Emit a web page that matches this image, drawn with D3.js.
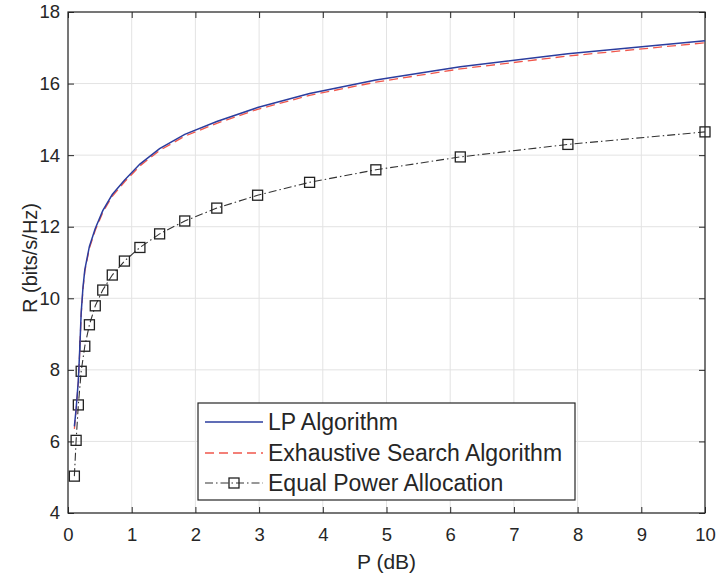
<!DOCTYPE html>
<html>
<head>
    <title>R vs P</title>
    <style>
        body { margin: 0; background: #fff; }
        text { font-family: "Liberation Sans", Arial, Helvetica, sans-serif; fill: #262626; }
        .grid line { stroke: #e3e3e3; stroke-width: 1px; }
    </style>
    <script src="https://d3js.org/d3.v7.min.js"></script>
</head>
<body>
    <div id="chart"></div>
    <script>
        // power samples (dB) and rates (bits/s/Hz)
        const lpP = [0.1, 0.127, 0.162, 0.185, 0.207, 0.235, 0.264, 0.336, 0.428, 0.546, 0.695, 0.886,
                     1.129, 1.438, 1.833, 2.336, 2.976, 3.793, 4.833, 6.158, 7.848, 10];
        const lpR = [6.42, 6.9, 7.7, 8.6, 9.6, 10.3, 10.8, 11.45, 11.95, 12.45, 12.9, 13.3,
                     13.75, 14.18, 14.58, 14.94, 15.33, 15.72, 16.1, 16.47, 16.83, 17.2];
        const esR = [6.35, 6.85, 7.65, 8.55, 9.55, 10.25, 10.75, 11.4, 11.9, 12.4, 12.85, 13.25,
                     13.7, 14.13, 14.53, 14.89, 15.28, 15.67, 16.04, 16.41, 16.77, 17.14];
        const epP = [0.1, 0.1274, 0.1624, 0.2069, 0.2637, 0.336, 0.4281, 0.5456, 0.6952, 0.8859,
                     1.1288, 1.4384, 1.833, 2.3357, 2.9764, 3.7927, 4.8329, 6.1585, 7.8476, 10];
        const epR = [5.03, 6.03, 7.02, 7.96, 8.66, 9.26, 9.79, 10.23, 10.65, 11.04,
                     11.42, 11.8, 12.16, 12.52, 12.88, 13.24, 13.59, 13.95, 14.3, 14.65];
        const xTicks = [0, 1, 2, 3, 4, 5, 6, 7, 8, 9, 10];
        const yTicks = [4, 6, 8, 10, 12, 14, 16, 18];
        const seriesNames = ["LP Algorithm", "Exhaustive Search Algorithm", "Equal Power Allocation"];

        const width = 716, height = 576;
        const margin = {top: 12, right: 11, bottom: 63, left: 68};
        const w = width - margin.left - margin.right,
              h = height - margin.top - margin.bottom;

        const svg = d3.select("#chart").append("svg")
            .attr("width", width)
            .attr("height", height);

        const g = svg.append("g")
            .attr("transform", `translate(${margin.left},${margin.top})`);

        const x = d3.scaleLinear().domain([0, 10]).range([0, w]);
        const y = d3.scaleLinear().domain([4, 18]).range([h, 0]);

        // grid
        g.append("g").attr("class", "grid")
            .selectAll("line").data(xTicks).enter().append("line")
            .attr("x1", d => x(d)).attr("x2", d => x(d))
            .attr("y1", 0).attr("y2", h);
        g.append("g").attr("class", "grid")
            .selectAll("line").data(yTicks).enter().append("line")
            .attr("y1", d => y(d)).attr("y2", d => y(d))
            .attr("x1", 0).attr("x2", w);

        // axes (ticks inward, box on)
        const styleAxis = sel => {
            sel.select(".domain").remove();
            sel.selectAll("line").attr("stroke", "#262626");
            sel.selectAll("text").style("font-size", "18.5px").attr("fill", "#262626");
        };
        g.append("g").attr("transform", `translate(0,${h})`)
            .call(d3.axisBottom(x).tickValues(xTicks).tickSize(-6).tickPadding(15))
            .call(styleAxis);
        g.append("g")
            .call(d3.axisLeft(y).tickValues(yTicks).tickSize(-6).tickPadding(8))
            .call(styleAxis);
        g.append("g")
            .call(d3.axisTop(x).tickValues(xTicks).tickSize(-6).tickFormat(""))
            .call(styleAxis);
        g.append("g").attr("transform", `translate(${w},0)`)
            .call(d3.axisRight(y).tickValues(yTicks).tickSize(-6).tickFormat(""))
            .call(styleAxis);
        g.append("rect")
            .attr("width", w).attr("height", h)
            .attr("fill", "none").attr("stroke", "#262626").attr("stroke-width", 1.2);

        const line = d3.line().x(d => x(d[0])).y(d => y(d[1]));

        // equal power allocation
        const ep = epP.map((p, i) => [p, epR[i]]);
        g.append("path").datum(ep)
            .attr("d", line).attr("fill", "none")
            .attr("stroke", "#333").attr("stroke-width", 1.1)
            .attr("stroke-dasharray", "8,3,1.5,3");
        g.selectAll(".mk").data(ep).enter().append("rect")
            .attr("class", "mk")
            .attr("x", d => x(d[0]) - 5).attr("y", d => y(d[1]) - 5)
            .attr("width", 10).attr("height", 10)
            .attr("fill", "none").attr("stroke", "#222").attr("stroke-width", 1.3);

        // exhaustive search
        g.append("path").datum(lpP.map((p, i) => [p, esR[i]]))
            .attr("d", line).attr("fill", "none")
            .attr("stroke", "#f0574c").attr("stroke-width", 1.3)
            .attr("stroke-dasharray", "9,5");

        // LP
        g.append("path").datum(lpP.map((p, i) => [p, lpR[i]]))
            .attr("d", line).attr("fill", "none")
            .attr("stroke", "#2b3d9e").attr("stroke-width", 1.5);

        // axis labels
        svg.append("text")
            .attr("x", margin.left + w / 2).attr("y", 569)
            .attr("text-anchor", "middle").style("font-size", "21px")
            .text("P (dB)");
        svg.append("text")
            .attr("transform", `translate(37,258) rotate(-90)`)
            .attr("text-anchor", "middle").style("font-size", "20px")
            .text("R (bits/s/Hz)");

        // legend
        const lg = svg.append("g").attr("transform", "translate(198,403)");
        lg.append("rect")
            .attr("width", 377).attr("height", 97)
            .attr("fill", "#fff").attr("stroke", "#262626").attr("stroke-width", 1.2);
        const rowY = [19, 50, 80];
        const legendStyles = [
            {stroke: "#2b3d9e", dash: null, width: 1.5},
            {stroke: "#f0574c", dash: "9,5", width: 1.3},
            {stroke: "#333", dash: "8,3,1.5,3", width: 1.1}
        ];
        seriesNames.forEach((name, i) => {
            lg.append("line")
                .attr("x1", 7).attr("x2", 65)
                .attr("y1", rowY[i]).attr("y2", rowY[i])
                .attr("stroke", legendStyles[i].stroke)
                .attr("stroke-width", legendStyles[i].width)
                .attr("stroke-dasharray", legendStyles[i].dash);
            if (i === 2) {
                lg.append("rect")
                    .attr("x", 31).attr("y", rowY[i] - 5)
                    .attr("width", 10).attr("height", 10)
                    .attr("fill", "none").attr("stroke", "#222").attr("stroke-width", 1.3);
            }
            lg.append("text")
                .attr("x", 70).attr("y", rowY[i])
                .attr("dy", "0.36em")
                .style("font-size", "23px")
                .text(name);
        });
    </script>
</body>
</html>
